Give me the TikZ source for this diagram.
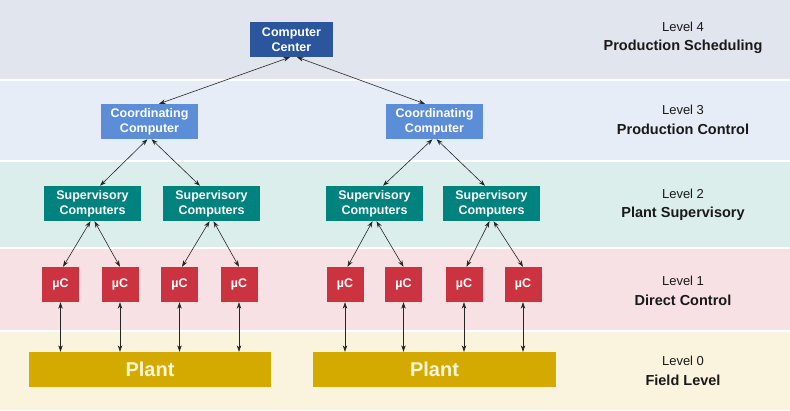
\documentclass[tikz,border=0pt]{standalone}
\usepackage{fontspec}
\setmainfont{Liberation Sans}
\usetikzlibrary{arrows.meta}
\pgfdeclarelayer{bg}
\pgfsetlayers{bg,main}

\definecolor{bandfour}{HTML}{E1E5EE}
\definecolor{bandthree}{HTML}{E7EDF6}
\definecolor{bandtwo}{HTML}{DCEEEC}
\definecolor{bandone}{HTML}{F7E1E4}
\definecolor{bandzero}{HTML}{FAF3DD}
\definecolor{centercol}{HTML}{2B569E}
\definecolor{coordcol}{HTML}{5C8ED8}
\definecolor{supcol}{HTML}{00827F}
\definecolor{uccol}{HTML}{CC3340}
\definecolor{plantcol}{HTML}{D4AA00}
\definecolor{planttext}{HTML}{FFF6D6}

\tikzset{
        box/.style={text=white, font=\fontsize{12.5}{15}\selectfont\bfseries, align=center, inner sep=0pt, minimum height=35pt},
        centerbox/.style={box, fill=centercol, minimum width=83pt},
        coordbox/.style={box, fill=coordcol, minimum width=97pt},
        supbox/.style={box, fill=supcol, minimum width=97pt},
        ucbox/.style={box, fill=uccol, minimum width=37pt},
        plantbox/.style={box, fill=plantcol, text=planttext, font=\fontsize{20}{24}\selectfont\bfseries},
        levtext/.style={align=center, text=black!90, font=\fontsize{14.5}{19.5}\selectfont},
        arr/.style={{Stealth[length=6.5pt,width=4.5pt]}-{Stealth[length=6.5pt,width=4.5pt]}, line width=0.6pt, black!85}
}

\begin{document}
\begin{tikzpicture}[x=1pt,y=-1pt]
        \useasboundingbox (0,0) rectangle (790,410);
        \begin{pgfonlayer}{bg}
                \fill[white] (0,0) rectangle (790,410);
                \fill[bandfour] (0,0) rectangle (790,79);
                \fill[bandthree] (0,81) rectangle (790,160);
                \fill[bandtwo] (0,162) rectangle (790,247);
                \fill[bandone] (0,249) rectangle (790,330);
                \fill[bandzero] (0,332) rectangle (790,410);
        \end{pgfonlayer}
        % level 4
        \node (cc) [centerbox] at (291.5,39.5) {Computer\\Center};
        % level 3
        \node (co1) [coordbox] at (149.5,121.5) {Coordinating\\Computer};
        \node (co2) [coordbox] at (434.5,121.5) {Coordinating\\Computer};
        % level 2
        \node (sv1) [supbox] at (92.5,203.5) {Supervisory\\Computers};
        \node (sv2) [supbox] at (211.5,203.5) {Supervisory\\Computers};
        \node (sv3) [supbox] at (374.5,203.5) {Supervisory\\Computers};
        \node (sv4) [supbox] at (491.5,203.5) {Supervisory\\Computers};
        % level 1
        \node (uc1) [ucbox] at (60.5,284.5) {µC};
        \node (uc2) [ucbox] at (120,284.5) {µC};
        \node (uc3) [ucbox] at (179.5,284.5) {µC};
        \node (uc4) [ucbox] at (239,284.5) {µC};
        \node (uc5) [ucbox] at (345,284.5) {µC};
        \node (uc6) [ucbox] at (403.5,284.5) {µC};
        \node (uc7) [ucbox] at (464,284.5) {µC};
        \node (uc8) [ucbox] at (523,284.5) {µC};
        % level 0
        \node (pl1) [plantbox, minimum width=242pt] at (150,369.5) {Plant};
        \node (pl2) [plantbox, minimum width=243pt] at (434.5,369.5) {Plant};
        % level names
        \node (lv4) [levtext] at (683,38) {{\fontsize{13}{19.5}\selectfont Level 4}\\\textbf{Production Scheduling}};
        \node (lv3) [levtext] at (683,120) {{\fontsize{13}{19.5}\selectfont Level 3}\\\textbf{Production Control}};
        \node (lv2) [levtext] at (683,205) {{\fontsize{13}{19.5}\selectfont Level 2}\\\textbf{Plant Supervisory}};
        \node (lv1) [levtext] at (683,291) {{\fontsize{13}{19.5}\selectfont Level 1}\\\textbf{Direct Control}};
        \node (lv0) [levtext] at (683,371) {{\fontsize{13}{19.5}\selectfont Level 0}\\\textbf{Field Level}};

        \draw ([xshift=-1.5pt]cc.south) edge [arr] ([xshift=9.5pt]co1.north);
        \draw ([xshift=5.5pt]cc.south) edge [arr] ([xshift=-9.5pt]co2.north);
        \draw ([xshift=-2pt]co1.south) edge [arr] ([xshift=7.5pt]sv1.north);
        \draw ([xshift=2pt]co1.south) edge [arr] ([xshift=-11.5pt]sv2.north);
        \draw ([xshift=-2pt]co2.south) edge [arr] ([xshift=8.5pt]sv3.north);
        \draw ([xshift=2pt]co2.south) edge [arr] ([xshift=-6.5pt]sv4.north);
        \draw ([xshift=-2pt]sv1.south) edge [arr] ([xshift=2.5pt]uc1.north);
        \draw ([xshift=2pt]sv1.south) edge [arr] (uc2.north);
        \draw ([xshift=-2pt]sv2.south) edge [arr] ([xshift=2.5pt]uc3.north);
        \draw ([xshift=2pt]sv2.south) edge [arr] (uc4.north);
        \draw ([xshift=-2pt]sv3.south) edge [arr] ([xshift=2.5pt]uc5.north);
        \draw ([xshift=2pt]sv3.south) edge [arr] (uc6.north);
        \draw ([xshift=-2pt]sv4.south) edge [arr] ([xshift=2.5pt]uc7.north);
        \draw ([xshift=2pt]sv4.south) edge [arr] (uc8.north);
        \draw (uc1.south) edge [arr] (uc1.south |- pl1.north);
        \draw (uc2.south) edge [arr] (uc2.south |- pl1.north);
        \draw (uc3.south) edge [arr] (uc3.south |- pl1.north);
        \draw (uc4.south) edge [arr] (uc4.south |- pl1.north);
        \draw (uc5.south) edge [arr] (uc5.south |- pl2.north);
        \draw (uc6.south) edge [arr] (uc6.south |- pl2.north);
        \draw (uc7.south) edge [arr] (uc7.south |- pl2.north);
        \draw (uc8.south) edge [arr] (uc8.south |- pl2.north);
\end{tikzpicture}
\end{document}
